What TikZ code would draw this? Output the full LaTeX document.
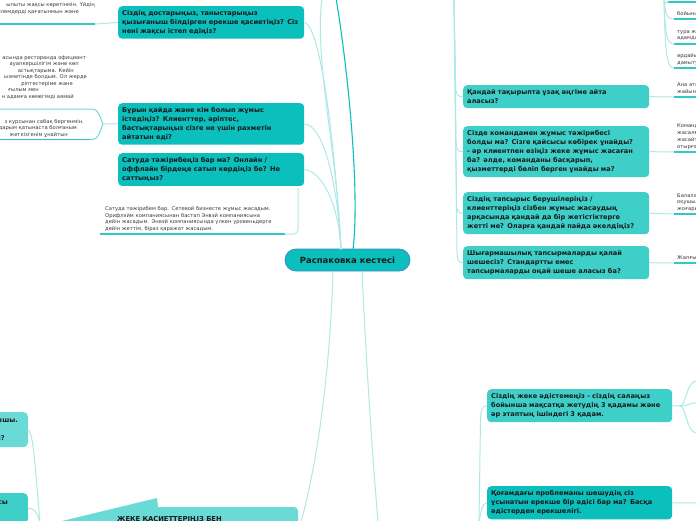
\documentclass[tikz,border=0pt]{standalone}
\usepackage{fontspec}
\setmainfont{DejaVu Sans}
\definecolor{tdark}{HTML}{0ABFBC}
\definecolor{tmid}{HTML}{3ECFC9}
\definecolor{tlight}{HTML}{6ADAD6}
\definecolor{conn}{HTML}{ADE9E6}
\definecolor{uline}{HTML}{34C8C3}
\definecolor{txt}{HTML}{1A1A1A}
\definecolor{leafc}{HTML}{3A3A3A}
\definecolor{pillb}{HTML}{3A8BC9}
\begin{document}
\begin{tikzpicture}[x=1pt,y=-1pt,
 qbox/.style={rounded corners=4pt, inner xsep=4pt, inner ysep=4.5pt, text width=178pt, align=left, anchor=north west, font=\bfseries\fontsize{6.6}{8.8}\selectfont, text=txt},
 leaftext/.style={font=\fontsize{5.2}{6.7}\selectfont, text=leafc, inner sep=0pt},
 leafr/.style={leaftext, anchor=base east},
 leafl/.style={leaftext, anchor=base west},
 link/.style={draw=conn, line width=1pt},
 darklink/.style={draw=tdark, line width=1.1pt},
 underl/.style={draw=uline, line width=1.3pt},
]
\clip (0,0) rectangle (696,520);
\fill[white] (0,0) rectangle (696,520);

% ---------- question boxes ----------
\node[qbox, fill=tdark] (b1) at (118,6) {Сіздің достарыңыз, таныстарыңыз\\қызығаныш білдірген ерекше қасиетіңіз? Сіз\\нені жақсы істеп едіңіз?};
\node[qbox, fill=tdark] (b2) at (118,103) {Бұрын қайда және кім болып жұмыс\\істедіңіз? Клиенттер, әріптес,\\бастықтарыңыз сізге не үшін рахметін\\айтатын еді?};
\node[qbox, fill=tdark] (b3) at (118,153) {Сатуда тәжірибеңіз бар ма? Онлайн /\\оффлайн бірдеңе сатып көрдіңіз бе? Не\\саттыңыз?};
\node[qbox, fill=tmid] (b4) at (463,85) {Қандай тақырыпта ұзақ әңгіме айта\\аласыз?};
\node[qbox, fill=tmid] (b5) at (463,126) {Сізде командамен жұмыс тәжірибесі\\болды ма? Сізге қайсысы көбірек ұнайды?\\- әр клиентпен өзіңіз жеке жұмыс жасаған\\ба? әлде, команданы басқарып,\\қызметтерді бөліп берген ұнайды ма?};
\node[qbox, fill=tmid] (b6) at (463,192) {Сіздің тапсырыс берушілеріңіз /\\клиенттеріңіз сізбен жұмыс жасаудың\\арқасында қандай да бір жетістіктерге\\жетті ме? Оларға қандай пайда әкелдіңіз?};
\node[qbox, fill=tmid] (b7) at (463,246) {Шығармашылық тапсырмаларды қалай\\шешесіз? Стандартты емес\\тапсырмаларды оңай шеше аласыз ба?};
\node[qbox, fill=tmid, text width=177pt] (b8) at (487,389) {Сіздің жеке әдістемеңіз - сіздің салаңыз\\бойынша мақсатқа жетудің 3 қадамы және\\әр этаптың ішіндегі 3 қадам.};
\node[qbox, fill=tdark, text width=177pt] (b9) at (487,486) {Қоғамдағы проблеманы шешудің сіз\\ұсынатын ерекше бір әдісі бар ма? Басқа\\әдістерден ерекшелігі.};

% ---------- central topic ----------
\node[draw=pillb, line width=0.8pt, fill=tdark, rounded corners=11pt, minimum width=125pt, minimum height=22pt, inner sep=0pt, font=\bfseries\fontsize{8.5}{10}\selectfont, text=txt] (ctr) at (347.5,260) {Распаковка кестесі};

% ---------- bottom-left nodes ----------
\fill[tlight] (157,498) -- (58,522) -- (165,526) -- (165,507) -- (158,507) -- cycle;
\fill[tlight, rounded corners=4pt] (157,507) rectangle (298,535);
\node[font=\bfseries\fontsize{6.8}{8}\selectfont, text=txt, anchor=base west, inner sep=0pt] (big) at (117,521.5) {ЖЕКЕ ҚАСИЕТТЕРІҢІЗ БЕН};
\node[fill=tlight, rounded corners=4pt, minimum width=40pt, minimum height=35pt, anchor=north east, inner sep=0pt] (bl1) at (28,412) {};
\node[fill=tmid, rounded corners=4pt, minimum width=40pt, minimum height=30pt, anchor=north east, inner sep=0pt] (bl2) at (28,493) {};
\node[font=\bfseries\fontsize{6.6}{8.8}\selectfont, text=txt, anchor=base east, inner sep=0pt] (bl1a) at (18,422.5) {зшы.};
\node[font=\bfseries\fontsize{6.6}{8.8}\selectfont, text=txt, anchor=base east, inner sep=0pt] (bl1b) at (5,440.5) {з?};
\node[font=\bfseries\fontsize{6.6}{8.8}\selectfont, text=txt, anchor=base east, inner sep=0pt] (bl2a) at (8,504.5) {сы};

% ---------- connectors from the central topic ----------
\coordinate (cU1) at (341,249.5);
\coordinate (cU2) at (353,249.5);
\coordinate (tL) at (322,-2);
\coordinate (tD) at (336,-2);
\draw[link] (cU1) .. controls (339,205) and (322,171) .. (b3.east);
\draw[link] (cU1) .. controls (338,190) and (325,125) .. (b2.east);
\draw[link] (cU1) .. controls (336,160) and (322,26) .. (b1.east);
\draw[link] (cU1) .. controls (337,150) and (314,60) .. (tL);
\draw[darklink] (cU2) .. controls (360,190) and (348,70) .. (tD);
\coordinate (cD1) at (333,271);
\coordinate (cD2) at (362,271);
\coordinate (bigR) at (301,522);
\coordinate (bD) at (378,522);
\draw[link] (cD1) .. controls (330,370) and (318,460) .. (bigR);
\draw[link] (cD2) .. controls (366,360) and (372,450) .. (bD);

% ---------- right trunk ----------
\coordinate (rt) at (454,-2);
\draw[link] (rt) -- (455.5,85) .. controls (455.5,95) and (458,97) .. (b4.west);
\draw[link] (rt) -- (456,140) .. controls (456,150) and (458,152) .. (b5.west);
\draw[link] (rt) -- (456.5,201) .. controls (456.5,211) and (458,213.5) .. (b6.west);
\draw[link] (rt) -- (457,251) .. controls (457,261) and (459,263) .. (b7.west);

% ---------- right leaves ----------
\draw[link] (b4.east) -- (674,97);
\draw[underl] (674,97) -- (696,97);
\node[leafl] (r4a) at (677,86.5) {Ана атам};
\node[leafl] (r4b) at (677,93) {жайында};
\draw[link] (b5.east) -- (674,152);
\draw[underl] (674,152) -- (696,152);
\node[leafl] (r5a) at (677,127) {Командамен};
\node[leafl] (r5b) at (677,134) {жасалған};
\node[leafl] (r5c) at (677,141) {жасайтын};
\node[leafl] (r5d) at (677,148) {отырғанда};
\draw[link] (b6.east) -- (674,214);
\draw[underl] (674,214) -- (696,214);
\node[leafl] (r6a) at (677,197) {Балалар};
\node[leafl] (r6b) at (677,203.5) {оқушылар};
\node[leafl] (r6c) at (677,210) {жоғары};
\draw[link] (b7.east) -- (674,263);
\draw[underl] (674,263) -- (696,263);
\node[leafl] (r7a) at (677,259) {Жалғыз};

% upper right leaves
\coordinate (ur) at (664,-2);
\draw[underl] (668,2) -- (696,2);
\draw[link] (ur) .. controls (665,6) and (666,2) .. (668,2);
\draw[link] (ur) .. controls (665,14) and (667,19) .. (674,19);
\draw[link] (ur) .. controls (665,35) and (667,44) .. (674,44);
\draw[link] (ur) .. controls (665,55) and (667,68) .. (674,68);
\draw[underl] (674,19) -- (696,19);
\draw[underl] (674,44) -- (696,44);
\draw[underl] (674,68) -- (696,68);
\node[leafl] (ru1) at (677,15) {бойынша};
\node[leafl] (ru2) at (677,33) {тура жолы};
\node[leafl] (ru3) at (677,39.5) {адамдар};
\node[leafl] (ru4) at (677,57.5) {әрдайым};
\node[leafl] (ru5) at (677,64) {дамыту};

% ---------- left leaves ----------
\node[leafr] (l1a) at (95,6) {ылыты жақсы көретінмін. Үйдің};
\node[leafr] (l1b) at (79,13) {ілемдерді қағатынмын және};
\coordinate (l1u) at (95,24);
\draw[underl] (0,24) -- (l1u);
\draw[link] (l1u) -- (b1.west);

\node[leafr] (l2a) at (86,59) {асында ресторанда официант};
\node[leafr] (l2b) at (79,65.5) {ауапкершілігім және көп};
\node[leafr] (l2c) at (74,72) {астықтарыма. Кейін};
\node[leafr] (l2d) at (87,78.5) {ызметінде болдым. Ол жерде};
\node[leafr] (l2e) at (73,85) {ріптестеріме және};
\node[leafr] (l2f) at (39,91.5) {ғылым мен};
\node[leafr] (l2g) at (74,98) {н адамға көмегімді аямай};

\node[leafr] (l3a) at (84,123) {з курсынан сабақ бергенмін.};
\node[leafr] (l3b) at (77,129.5) {дарым қатынаста болғаным};
\node[leafr] (l3c) at (68,136) {жеткізгенім ұнайтын};
\coordinate (l3p) at (103,124);
\draw[draw=tmid!75, line width=1pt] (0,109) -- (92,109) .. controls (99,109) and (100,118) .. (l3p) .. controls (100,130) and (99,139.5) .. (92,139.5) -- (0,139.5);
\draw[underl] (0,139.5) -- (90,139.5);
\draw[link] (l3p) -- (b2.west);

% leaf under box 3
\node[leaftext, anchor=north west, align=left, text width=200pt] (l4) at (105,206.3) {Сатуда тәжірибем бар. Сетевой бизнесте жұмыс жасадым.\\Орифлэйм компаниясынан бастап Энвэй компаниясына\\дейін жасадым. Энвэй компаниясында үлкен уровеньдерге\\дейін жеттім, біраз қаражат жасадым.};
\coordinate (l4a) at (298,188);
\coordinate (l4b) at (285,234);
\draw[link, rounded corners=4pt] (l4a) -- (298,234) -- (l4b);
\draw[underl] (100,234) -- (l4b);

% ---------- bottom right ----------
\coordinate (j8) at (680,406);
\coordinate (r8a) at (696,381);
\coordinate (r8b) at (696,403);
\coordinate (r8c) at (696,433);
\draw[link] (b8.east) -- (j8);
\draw[link] (j8) .. controls (686,406) and (686,383) .. (r8a);
\draw[link] (j8) .. controls (688,406) and (690,403) .. (r8b);
\draw[link] (j8) .. controls (686,406) and (686,431) .. (r8c);
\coordinate (r9) at (696,503);
\draw[link] (b9.east) -- (r9);
\coordinate (bt) at (479,522);
\draw[link] (bt) -- (480.5,420) .. controls (480.5,411) and (482,406) .. (b8.west);
\draw[link] (bt) .. controls (481,512) and (482,503) .. (b9.west);

% ---------- bottom left connectors ----------
\coordinate (blc) at (40,522);
\draw[link] (bl1.east) .. controls (34,432) and (36,480) .. (blc);
\draw[link] (bl2.east) .. controls (34,508) and (37,512) .. (blc);
\end{tikzpicture}
\end{document}
